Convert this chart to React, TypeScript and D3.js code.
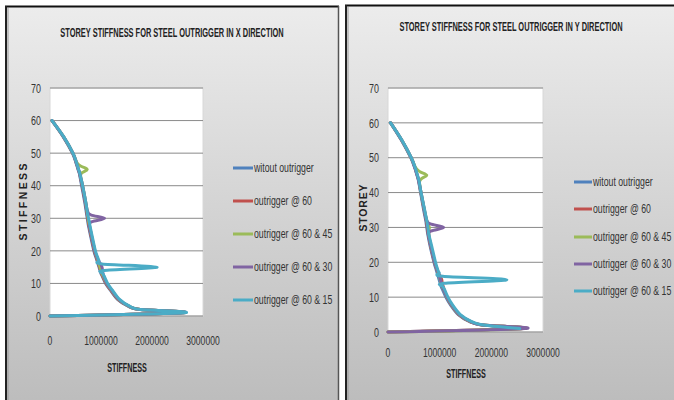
import * as d3 from "d3";

// storeys sampled along the curves (unit steps around the outrigger levels)
const storeys = [0, 1, 2, 3, 5, 8, 10, 12, 13, 14, 15, 16, 17, 18, 20, 25, 28, 29, 30, 31, 32, 35, 40, 43, 44, 45, 46, 47, 50, 55, 60];
const storeysNoBase = storeys.slice(1);

// X direction
const xWithout = [0, 2580000, 1760000, 1530000, 1330000, 1180000, 1090000, 1030000, 1000000, 980000, 960000, 940000, 920000, 900000, 860000, 790000, 750000, 740000, 730000, 720000, 710000, 680000, 620000, 585000, 570000, 550000, 530000, 510000, 440000, 260000, 40000];
const xAt60 = [0, 2590000, 1770000, 1540000, 1340000, 1190000, 1100000, 1040000, 1010000, 990000, 970000, 950000, 930000, 910000, 870000, 800000, 760000, 750000, 740000, 730000, 720000, 690000, 630000, 590000, 575000, 555000, 535000, 515000, 445000, 265000, 40000];
const xAt60and45 = [0, 2600000, 1770000, 1545000, 1350000, 1200000, 1110000, 1050000, 1020000, 1000000, 980000, 960000, 940000, 920000, 880000, 810000, 770000, 760000, 750000, 740000, 730000, 700000, 640000, 600000, 630000, 730000, 610000, 530000, 450000, 268000, 40000];
const xAt60and30 = [0, 2610000, 1775000, 1550000, 1355000, 1205000, 1115000, 1060000, 1040000, 1030000, 1020000, 990000, 950000, 925000, 880000, 810000, 775000, 830000, 1070000, 810000, 740000, 700000, 640000, 595000, 580000, 560000, 540000, 520000, 450000, 268000, 40000];
const xAt60and15 = [0, 2620000, 1780000, 1560000, 1370000, 1220000, 1130000, 1070000, 1040000, 1060000, 2100000, 1020000, 960000, 935000, 890000, 820000, 780000, 770000, 755000, 740000, 730000, 700000, 640000, 595000, 580000, 560000, 540000, 520000, 450000, 270000, 40000];

// Y direction
const yWithout = [0, 2600000, 1820000, 1580000, 1360000, 1200000, 1120000, 1060000, 1030000, 1010000, 990000, 970000, 950000, 930000, 890000, 810000, 770000, 760000, 750000, 740000, 730000, 690000, 630000, 595000, 580000, 560000, 540000, 520000, 440000, 260000, 50000];
const yAt60 = [0, 2610000, 1830000, 1590000, 1370000, 1215000, 1140000, 1090000, 1070000, 1050000, 1040000, 1010000, 970000, 945000, 900000, 820000, 780000, 770000, 760000, 750000, 740000, 700000, 635000, 600000, 585000, 565000, 545000, 525000, 445000, 265000, 50000];
const yAt60and45 = [0, 2620000, 1835000, 1600000, 1380000, 1220000, 1140000, 1080000, 1050000, 1030000, 1010000, 990000, 970000, 950000, 905000, 825000, 790000, 790000, 800000, 770000, 750000, 705000, 640000, 610000, 650000, 750000, 620000, 540000, 450000, 268000, 50000];
const yAt60and30 = [0, 2650000, 1840000, 1605000, 1385000, 1225000, 1145000, 1080000, 1055000, 1035000, 1015000, 995000, 975000, 950000, 905000, 825000, 790000, 840000, 1080000, 820000, 750000, 705000, 640000, 600000, 585000, 565000, 545000, 525000, 450000, 268000, 50000];
const yAt60and15 = [2550000, 1850000, 1620000, 1400000, 1240000, 1160000, 1100000, 1070000, 1090000, 2300000, 1060000, 990000, 960000, 920000, 840000, 790000, 780000, 770000, 760000, 750000, 710000, 640000, 605000, 590000, 570000, 550000, 530000, 450000, 270000, 50000];

const seriesNames = ["witout outrigger", "outrigger @ 60", "outrigger @ 60 & 45", "outrigger @ 60 & 30", "outrigger @ 60 & 15"];
const seriesColors = ["#4F81BD", "#C0504D", "#9BBB59", "#8064A2", "#4BACC6"];
const xTicks = [0, 1000000, 2000000, 3000000];
const yTicks = [0, 10, 20, 30, 40, 50, 60, 70];

const font = "'Liberation Sans', Arial, sans-serif";

// condensed text, stands in for the narrow Excel font
function NText({
  x,
  y,
  anchor = "start",
  size,
  sx,
  bold = false,
  fill = "#333",
  children,
}: {
  x: number;
  y: number;
  anchor?: "start" | "middle" | "end";
  size: number;
  sx: number;
  bold?: boolean;
  fill?: string;
  children: React.ReactNode;
}) {
  return (
    <text
      transform={`translate(${x},${y}) scale(${sx},1)`}
      dy="0.35em"
      textAnchor={anchor}
      fontFamily={font}
      fontSize={size}
      fontWeight={bold ? "bold" : "normal"}
      fill={fill}
    >
      {children}
    </text>
  );
}

type Series = { name: string; color: string; storeys: number[]; values: number[] };

type ChartProps = {
  title: string;
  titleX: number;
  titleY: number;
  yTitle: string;
  yTitleX: number;
  yTitleY: number;
  yTitleLen: number;
  plot: { left: number; right: number; top: number; bottom: number };
  xLabelY: number;
  xTitleX: number;
  xTitleY: number;
  legend: { x1: number; x2: number; rows: number[] };
  series: Series[];
};

function Chart(p: ChartProps) {
  const x = d3.scaleLinear().domain([0, 3000000]).range([p.plot.left, p.plot.right]);
  const y = d3.scaleLinear().domain([0, 70]).range([p.plot.bottom, p.plot.top]);
  const line = d3
    .line<[number, number]>()
    .x((d) => x(d[0]))
    .y((d) => y(d[1]))
    .curve(d3.curveCardinal.tension(0));

  return (
    <g>
      <NText x={p.titleX} y={p.titleY} anchor="middle" size={12} sx={0.62} bold fill="#222">
        {p.title}
      </NText>
      <rect
        x={p.plot.left}
        y={p.plot.top}
        width={p.plot.right - p.plot.left}
        height={p.plot.bottom - p.plot.top}
        fill="#fff"
        stroke="#d8d8d8"
      />
      {yTicks.map((t) => (
        <g key={t}>
          <line x1={p.plot.left} x2={p.plot.right} y1={y(t)} y2={y(t)} stroke="#8a8a8a" strokeWidth={1} />
          <NText x={p.plot.left - 9} y={y(t)} anchor="end" size={13.5} sx={0.66}>
            {t}
          </NText>
        </g>
      ))}
      {xTicks.map((t) => (
        <NText key={t} x={x(t)} y={p.xLabelY} anchor="middle" size={13} sx={0.66}>
          {t}
        </NText>
      ))}
      <NText x={p.xTitleX} y={p.xTitleY} anchor="middle" size={12} sx={0.6} bold fill="#222">
        STIFFNESS
      </NText>
      <text
        transform={`translate(${p.yTitleX},${p.yTitleY}) rotate(-90)`}
        dy="0.35em"
        textAnchor="middle"
        fontFamily={font}
        fontWeight="bold"
        fontSize={10.5}
        fill="#222"
        textLength={p.yTitleLen}
        lengthAdjust="spacing"
      >
        {p.yTitle}
      </text>
      {p.series.map((s) => (
        <path
          key={s.name}
          d={line(s.storeys.map((st, i) => [s.values[i], st] as [number, number])) ?? ""}
          fill="none"
          stroke={s.color}
          strokeWidth={3}
          strokeLinejoin="round"
          strokeLinecap="round"
        />
      ))}
      {p.series.map((s, i) => (
        <g key={s.name}>
          <line x1={p.legend.x1} x2={p.legend.x2} y1={p.legend.rows[i]} y2={p.legend.rows[i]} stroke={s.color} strokeWidth={3} />
          <NText x={p.legend.x2 + 1} y={p.legend.rows[i]} size={12.5} sx={0.7}>
            {s.name}
          </NText>
        </g>
      ))}
    </g>
  );
}

export default function App() {
  const xSeries: Series[] = [xWithout, xAt60, xAt60and45, xAt60and30, xAt60and15].map((v, i) => ({
    name: seriesNames[i],
    color: seriesColors[i],
    storeys,
    values: v,
  }));
  const ySeries: Series[] = [yWithout, yAt60, yAt60and45, yAt60and30, yAt60and15].map((v, i) => ({
    name: seriesNames[i],
    color: seriesColors[i],
    storeys: i === 4 ? storeysNoBase : storeys,
    values: v,
  }));

  return (
    <svg width={674} height={400} style={{ position: "absolute", left: 0, top: 0 }}>
      <defs>
        <linearGradient id="bg" x1="0" y1="0" x2="0" y2="1">
          <stop offset="0" stopColor="#ececec" />
          <stop offset="1" stopColor="#bcbcbc" />
        </linearGradient>
      </defs>
      <rect x={0} y={0} width={674} height={400} fill="#fff" />
      <rect x={5} y={6} width={334} height={400} fill="url(#bg)" />
      <line x1={5} x2={339} y1={6.5} y2={6.5} stroke="#111" strokeWidth={2} />
      <line x1={6} x2={6} y1={6} y2={400} stroke="#222" strokeWidth={2} />
      <line x1={8} x2={8} y1={8} y2={400} stroke="#999" strokeWidth={1} />
      <line x1={338.5} x2={338.5} y1={6} y2={400} stroke="#555" strokeWidth={1.5} />
      <rect x={345} y={5} width={335} height={400} fill="url(#bg)" />
      <line x1={345} x2={674} y1={5.5} y2={5.5} stroke="#111" strokeWidth={2} />
      <line x1={346} x2={346} y1={5} y2={400} stroke="#222" strokeWidth={2} />
      <line x1={348} x2={348} y1={7} y2={400} stroke="#999" strokeWidth={1} />

      <Chart
        title="STOREY STIFFNESS FOR STEEL OUTRIGGER IN X DIRECTION"
        titleX={172}
        titleY={33}
        yTitle="STIFFNESS"
        yTitleX={23}
        yTitleY={202}
        yTitleLen={77}
        plot={{ left: 50, right: 203, top: 88, bottom: 316 }}
        xLabelY={340}
        xTitleX={127}
        xTitleY={368}
        legend={{ x1: 233, x2: 253, rows: [168, 201, 234, 267, 300] }}
        series={xSeries}
      />
      <Chart
        title="STOREY STIFFNESS FOR STEEL OUTRIGGER IN Y DIRECTION"
        titleX={511}
        titleY={27}
        yTitle="STOREY"
        yTitleX={363}
        yTitleY={208}
        yTitleLen={47}
        plot={{ left: 388, right: 543, top: 88, bottom: 332 }}
        xLabelY={352}
        xTitleX={466}
        xTitleY={374}
        legend={{ x1: 574, x2: 592, rows: [182, 209, 237, 264, 291] }}
        series={ySeries}
      />
    </svg>
  );
}
